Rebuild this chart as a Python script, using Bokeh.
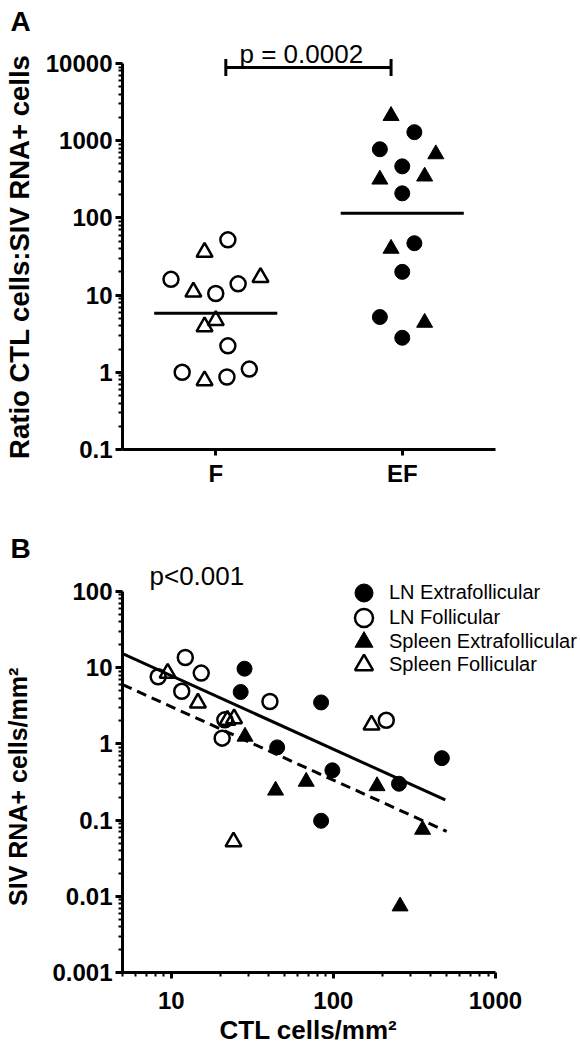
from bokeh.plotting import figure
from bokeh.models import FixedTicker, Label, Arrow, TeeHead, Legend, LegendItem, Title
from bokeh.layouts import column
from bokeh.embed import file_html
from bokeh.resources import INLINE

FONT = "Liberation Sans"
NBSP = "\u00a0"

# ---------------- Panel A data ----------------
cats = ["F", "EF"]
f_circle = [52, 16, 10.5, 14, 2.2, 1.0, 0.87, 1.1]
f_circle_dx = [0.065, -0.24, 0.0, 0.12, 0.065, -0.18, 0.06, 0.18]
f_tri = [36, 11, 17, 3.9, 4.7, 0.78]
f_tri_dx = [-0.06, -0.12, 0.24, -0.06, 0.0, -0.06]
ef_circle = [1290, 775, 465, 208, 47, 20, 5.2, 2.8]
ef_circle_dx = [0.065, -0.12, 0.0, 0.0, 0.065, 0.0, -0.12, 0.0]
ef_tri = [2100, 670, 315, 345, 40, 4.4]
ef_tri_dx = [-0.06, 0.18, -0.12, 0.12, -0.06, 0.12]
group_lines = [5.8, 115]
a_yticks = [0.1, 1, 10, 100, 1000, 10000]
a_ytick_labels = ["0.1", "1", "10", "100", "1000", "10000"]
a_p_text = "p = 0.0002"
a_bracket_y = 8900

# ---------------- Panel B data ----------------
ln_ef_x = [28.3, 26.8, 84, 45, 98.6, 254, 467, 84]
ln_ef_y = [9.7, 4.8, 3.5, 0.9, 0.45, 0.30, 0.65, 0.098]
ln_f_x = [8.3, 12.2, 15.3, 11.6, 40.6, 20.6, 21.4, 212]
ln_f_y = [7.6, 13.6, 8.5, 4.9, 3.6, 1.19, 2.07, 2.04]
sp_ef_x = [28.5, 44, 68, 186, 355, 258]
sp_ef_y = [1.25, 0.245, 0.32, 0.28, 0.075, 0.0074]
sp_f_x = [9.5, 14.6, 22.2, 24.4, 24.2, 172]
sp_f_y = [8.5, 3.45, 2.05, 2.15, 0.052, 1.78]
solid_x = [5, 490]
solid_y = [15.3, 0.184]
dashed_x = [5, 500]
dashed_y = [6.0, 0.071]
b_xticks = [10, 100, 1000]
b_xtick_labels = ["10", "100", "1000"]
b_yticks = [0.001, 0.01, 0.1, 1, 10, 100]
b_ytick_labels = ["0.001", "0.01", "0.1", "1", "10", "100"]
legend_labels = ["LN Extrafollicular", "LN Follicular", "Spleen Extrafollicular", "Spleen Follicular"]
b_p_text = "p<0.001"


def style_axis(ax):
    ax.axis_line_width = 3
    ax.axis_line_color = "black"
    ax.major_tick_line_width = 3
    ax.major_tick_line_color = "black"
    ax.minor_tick_line_width = 2
    ax.minor_tick_line_color = "black"
    ax.major_tick_out = 7
    ax.major_tick_in = 0
    ax.minor_tick_out = 4
    ax.minor_tick_in = 0
    ax.major_label_text_font = FONT
    ax.major_label_text_font_style = "bold"
    ax.major_label_text_font_size = "24px"
    ax.major_label_text_color = "black"
    ax.axis_label_text_font = FONT
    ax.axis_label_text_font_style = "bold"
    ax.axis_label_text_font_size = "27px"
    ax.axis_label_text_color = "black"


def minor_list(lo, hi):
    out = []
    for k in range(lo, hi):
        for m in range(2, 10):
            out.append(m * 10.0 ** k)
    return out


def panel_title(txt, standoff):
    return Title(text=txt, align="left", offset=-112, standoff=standoff,
                 text_font=FONT, text_font_size="28px", text_font_style="bold",
                 text_color="black", vertical_align="bottom")


# ---------------- Figure A ----------------
# frame spans page y 33..449 ; 0.1 at 449 and 10000 at 63 (77.2 px / decade)
a_top = 10 ** (4 + (63 - 33) / 77.2)
p1 = figure(width=572, height=522, frame_width=373, frame_height=416,
            y_axis_type="log", x_range=(0.5, 2.5), y_range=(0.1, a_top),
            output_backend="svg", toolbar_location=None,
            min_border_left=120, min_border_right=79, min_border_top=33, min_border_bottom=73)
p1.title = panel_title("A", -6)
p1.grid.visible = False
p1.outline_line_color = None
p1.background_fill_color = "white"
for ax in [p1.xaxis[0], p1.yaxis[0]]:
    style_axis(ax)
p1.xaxis.ticker = FixedTicker(ticks=[i + 1 for i in range(len(cats))])
p1.xaxis.major_label_overrides = {i + 1: c for i, c in enumerate(cats)}
p1.xaxis.minor_tick_out = 0
p1.xaxis.major_tick_out = 6
p1.xaxis.major_label_standoff = 4
p1.yaxis.ticker = FixedTicker(ticks=a_yticks, minor_ticks=minor_list(-1, 4))
p1.yaxis.major_label_overrides = {t: l for t, l in zip(a_yticks, a_ytick_labels)}
p1.yaxis.major_label_standoff = 3
p1.yaxis.bounds = (a_yticks[0], a_yticks[-1])
# trailing no-break spaces shift the centred label down to the axis' own centre
p1.yaxis.axis_label = "Ratio CTL cells:SIV RNA+ cells" + NBSP * 4
p1.yaxis.axis_label_text_font_size = "27.5px"
p1.yaxis.axis_label_standoff = 8

pos = {c: i + 1 for i, c in enumerate(cats)}
p1.scatter([pos["F"] + d for d in f_circle_dx], f_circle, marker="circle", size=15,
           fill_color=None, line_color="black", line_width=2.5)
p1.scatter([pos["F"] + d for d in f_tri_dx], f_tri, marker="triangle", size=16,
           fill_color=None, line_color="black", line_width=2.5)
p1.scatter([pos["EF"] + d for d in ef_circle_dx], ef_circle, marker="circle", size=15,
           fill_color="black", line_color="black", line_width=1)
p1.scatter([pos["EF"] + d for d in ef_tri_dx], ef_tri, marker="triangle", size=16,
           fill_color="black", line_color="black", line_width=1)
p1.segment(x0=[pos[c] - 0.33 for c in cats], x1=[pos[c] + 0.33 for c in cats],
           y0=group_lines, y1=group_lines, line_width=3, line_color="black")

p1.add_layout(Arrow(x_start=pos["F"] + 0.054, x_end=pos["EF"] - 0.06,
                    y_start=a_bracket_y, y_end=a_bracket_y, line_width=3, line_color="black",
                    start=TeeHead(size=17, line_width=3, line_color="black"),
                    end=TeeHead(size=17, line_width=3, line_color="black")))
p1.add_layout(Label(x=117, y=449 - 53, x_units="screen", y_units="screen", text=a_p_text,
                    text_font=FONT, text_font_size="26px", text_align="left",
                    text_baseline="alphabetic", text_color="black"))

# ---------------- Figure B ----------------
# frame spans page x 120..580, y 552..972 ; 100 at 591, 0.001 at 972, 10 at x 169, 1000 at x 493
b_ytop = 10 ** (2 + (591 - 552) / 76.2)
b_xright = 10 ** (3 + (580 - 493) / 162.0)
p2 = figure(width=580, height=526, frame_width=460, frame_height=420,
            x_axis_type="log", y_axis_type="log", x_range=(5, b_xright), y_range=(0.001, b_ytop),
            output_backend="svg", toolbar_location=None,
            min_border_left=120, min_border_right=0, min_border_top=30, min_border_bottom=76)
p2.title = panel_title("B", -22)
p2.grid.visible = False
p2.outline_line_color = None
p2.background_fill_color = "white"
for ax in [p2.xaxis[0], p2.yaxis[0]]:
    style_axis(ax)
p2.xaxis.ticker = FixedTicker(ticks=b_xticks, minor_ticks=[v for v in minor_list(0, 3) if v >= 5])
p2.xaxis.major_label_overrides = {t: l for t, l in zip(b_xticks, b_xtick_labels)}
p2.xaxis.major_tick_out = 6
p2.xaxis.major_label_standoff = 13
p2.xaxis.bounds = (5, b_xticks[-1])
p2.yaxis.ticker = FixedTicker(ticks=b_yticks, minor_ticks=minor_list(-3, 2))
p2.yaxis.major_label_overrides = {t: l for t, l in zip(b_yticks, b_ytick_labels)}
p2.yaxis.major_label_standoff = 3
p2.yaxis.bounds = (b_yticks[0], b_yticks[-1])
p2.yaxis.axis_label = "SIV RNA+ cells/mm²" + NBSP * 7
p2.yaxis.axis_label_text_font_size = "25px"
p2.yaxis.axis_label_standoff = 17

# x-axis title placed as a "below" title so it can sit under the axis' own span
p2.add_layout(Title(text="CTL cells/mm²", align="left", offset=97, standoff=2,
                    text_font=FONT, text_font_size="26px", text_font_style="bold",
                    text_color="black", vertical_align="bottom"), "below")

p2.line(solid_x, solid_y, line_width=3, line_color="black")
p2.line(dashed_x, dashed_y, line_width=3, line_color="black", line_dash="10 6")
r1 = p2.scatter(ln_ef_x, ln_ef_y, marker="circle", size=15, fill_color="black",
                line_color="black", line_width=1)
r2 = p2.scatter(ln_f_x, ln_f_y, marker="circle", size=15, fill_color=None,
                line_color="black", line_width=2.5)
r3 = p2.scatter(sp_ef_x, sp_ef_y, marker="triangle", size=16, fill_color="black",
                line_color="black", line_width=1)
r4 = p2.scatter(sp_f_x, sp_f_y, marker="triangle", size=16, fill_color=None,
                line_color="black", line_width=2.5)

# one legend box per entry, rows centred at page y 592, 617, 641, 664
row_centres = [592, 617, 641, 664]
for lab, r, c in zip(legend_labels, [r1, r2, r3, r4], row_centres):
    lg = Legend(items=[LegendItem(label=lab, renderers=[r])],
                location=(220, 972 - c - 22.5), glyph_width=45, glyph_height=45,
                padding=0, margin=0, label_standoff=3, border_line_color=None,
                background_fill_alpha=0, label_text_font=FONT, label_text_font_size="20px",
                label_text_color="black")
    p2.add_layout(lg)

p2.add_layout(Label(x=27, y=972 - 575, x_units="screen", y_units="screen", text=b_p_text,
                    text_font=FONT, text_font_size="26px", text_align="left",
                    text_baseline="alphabetic", text_color="black"))

layout = column(p1, p2, spacing=0)
open("out.html", "w").write(file_html(layout, INLINE))
